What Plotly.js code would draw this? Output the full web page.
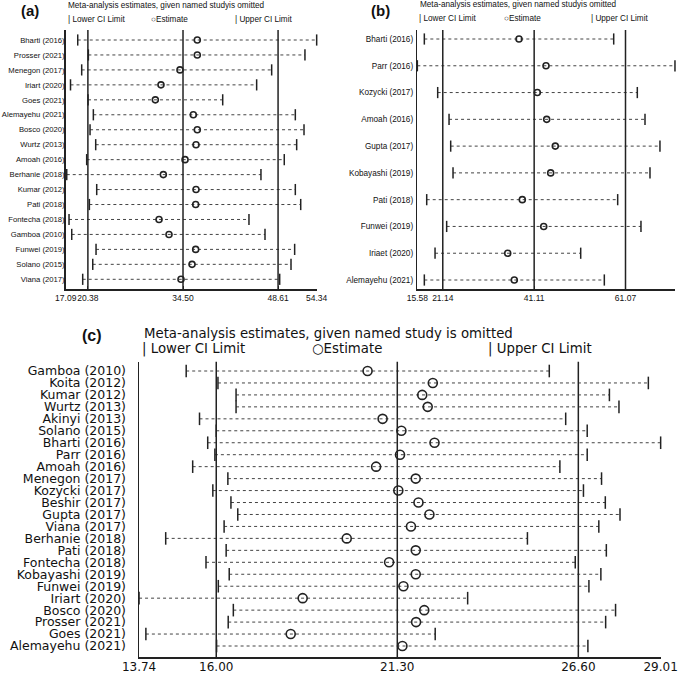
<!DOCTYPE html>
<html><head><meta charset="utf-8">
<script src="https://cdn.plot.ly/plotly-3.0.1.min.js"></script>
<style>body{margin:0;background:#fff}#c{width:685px;height:674px}</style>
</head><body><div id="c"></div>
<script>
// ---------- Panel (a) ----------
const aStudies = ["Bharti (2016)","Prosser (2021)","Menegon (2017)","Iriart (2020)","Goes (2021)","Alemayehu (2021)","Bosco (2020)","Wurtz (2013)","Amoah (2016)","Berhanie (2018)","Kumar (2012)","Pati (2018)","Fontecha (2018)","Gamboa (2010)","Funwei (2019)","Solano (2015)","Viana (2017)"];
const aEst   = [36.62,36.62,34.05,31.23,30.39,36.03,36.62,36.43,34.80,31.58,36.43,36.38,30.94,32.42,36.38,35.84,34.20];
const aLower = [18.87,20.45,19.46,17.80,20.40,21.19,20.70,21.54,20.20,17.24,21.69,20.60,17.58,17.98,21.59,21.10,19.61];
const aUpper = [54.34,52.60,47.66,45.43,40.39,51.17,52.46,51.37,49.53,46.07,51.17,51.97,44.29,46.67,51.07,50.53,48.85];
const aPooled = [20.38,34.50,48.61];
const aTicks = [17.09,20.38,34.50,48.61,54.34];

// ---------- Panel (b) ----------
const bStudies = ["Bharti (2016)","Parr (2016)","Kozycki (2017)","Amoah (2016)","Gupta (2017)","Kobayashi (2019)","Pati (2018)","Funwei (2019)","Iriaet (2020)","Alemayehu (2021)"];
const bEst   = [37.80,43.70,41.80,43.85,45.73,44.72,38.52,43.20,35.33,36.77];
const bLower = [17.11,15.58,20.03,22.51,22.87,23.38,17.63,21.99,19.45,17.11];
const bUpper = [58.49,71.88,63.65,65.33,68.60,66.42,59.36,64.45,51.28,56.44];
const bPooled = [21.14,41.11,61.07];
const bTicks = [15.58,21.14,41.11,61.07,71.88];

// ---------- Panel (c) ----------
const cStudies = ["Gamboa (2010)","Koita (2012)","Kumar (2012)","Wurtz (2013)","Akinyi (2013)","Solano (2015)","Bharti (2016)","Parr (2016)","Amoah (2016)","Menegon (2017)","Kozycki (2017)","Beshir (2017)","Gupta (2017)","Viana (2017)","Berhanie (2018)","Pati (2018)","Fontecha (2018)","Kobayashi (2019)","Funwei (2019)","Iriart (2020)","Bosco (2020)","Prosser (2021)","Goes (2021)","Alemayehu (2021)"];
const cEst   = [20.43,22.34,22.03,22.19,20.87,21.42,22.39,21.38,20.68,21.84,21.33,21.92,22.24,21.70,19.82,21.84,21.06,21.84,21.48,18.53,22.09,21.85,18.18,21.45];
const cLower = [15.12,16.05,16.58,16.58,15.51,16.00,15.75,15.96,15.31,16.34,15.90,16.43,16.63,16.23,14.52,16.29,15.70,16.38,16.06,13.74,16.50,16.35,13.94,16.01];
const cUpper = [25.75,28.65,27.51,27.79,26.23,26.86,29.01,26.86,26.06,27.28,26.75,27.39,27.82,27.20,25.11,27.42,26.51,27.26,26.91,23.36,27.69,27.40,22.41,26.88];
const cPooled = [16.00,21.30,26.60];
const cTicks = [13.74,16.00,21.30,26.60,29.01];

const W = 685, H = 674;
const NARROW = "Liberation Sans, Arial, sans-serif";
const WIDE = "Liberation Sans, Arial, sans-serif";
const DEJA = "DejaVu Sans, Verdana, sans-serif";

const traces = [];
const layout = {
  width: W, height: H, margin: {l:0, r:0, t:0, b:0},
  paper_bgcolor: "#fff", plot_bgcolor: "rgba(0,0,0,0)",
  showlegend: false, shapes: [], annotations: []
};

function panel(k, studies, est, lo, up, pooled, ticks, geo, st) {
  const xa = "x" + (k === 1 ? "" : k), ya = "y" + (k === 1 ? "" : k);
  const xk = "xaxis" + (k === 1 ? "" : k), yk = "yaxis" + (k === 1 ? "" : k);
  const n = studies.length;
  const idx = studies.map((_, i) => i);
  const lx = [], ly = [];
  idx.forEach(i => { lx.push(lo[i], up[i], null); ly.push(i, i, null); });
  traces.push({x: lx, y: ly, xaxis: xa, yaxis: ya, mode: "lines", type: "scatter", cliponaxis: false,
    line: {color: "#444", width: st.dl, dash: "dot"}, hoverinfo: "skip"});
  traces.push({x: lo.concat(up), y: idx.concat(idx), xaxis: xa, yaxis: ya, mode: "markers", type: "scatter", cliponaxis: false,
    marker: {symbol: "line-ns", size: st.bar, line: {color: "#222", width: 1.5}}, hoverinfo: "skip"});
  traces.push({x: est, y: idx, xaxis: xa, yaxis: ya, mode: "markers", type: "scatter", cliponaxis: false,
    marker: {symbol: "circle-open", size: st.circ, color: "#222", line: {color: "#222", width: 1.6}}, hoverinfo: "skip"});

  const sp = (geo.rowLast - geo.rowFirst) / (n - 1);
  const rTop = -(geo.rowFirst - geo.top) / sp;
  const rBot = (n - 1) + (geo.bottom - geo.rowLast) / sp;
  const eps = (ticks[ticks.length - 1] - ticks[0]) * 1e-4;
  layout[xk] = {
    domain: [geo.left / W, geo.right / W], range: [ticks[0] - eps, ticks[ticks.length - 1] + eps],
    anchor: ya, showgrid: false, zeroline: false, showline: true, linecolor: "#222", linewidth: 1.5,
    tickmode: "array", tickvals: ticks, ticktext: ticks.map(v => v.toFixed(2)), tickangle: 0,
    ticks: "inside", ticklen: 3, tickcolor: "#222",
    tickfont: {family: st.tickFam, size: st.tickSize, color: "#111"}, ticklabelstandoff: st.xStand
  };
  layout[yk] = {
    domain: [1 - geo.bottom / H, 1 - geo.top / H], range: [rBot, rTop],
    anchor: xa, showgrid: false, zeroline: false, showline: true, linecolor: "#222", linewidth: 1.5,
    tickmode: "array", tickvals: idx, ticktext: studies, ticks: "",
    tickfont: {family: st.labFam, size: st.labSize, color: "#111"}, ticklabelstandoff: st.yStand
  };
  pooled.forEach(v => layout.shapes.push({type: "line", xref: xa, yref: ya + " domain",
    x0: v, x1: v, y0: 0, y1: 1, line: {color: "#222", width: 1.5}}));

  const ann = (txt, px, py, fam, size, anchor) => layout.annotations.push({
    text: txt, xref: "paper", yref: "paper", x: px / W, y: 1 - py / H,
    xanchor: anchor || "left", yanchor: "middle", showarrow: false,
    font: {family: fam, size: size, color: "#111"}});
  ann("<b>" + st.letter + "</b>", st.letX, st.letY, WIDE, st.letSize);
  ann(st.title, st.titX, st.titY, st.labFam, st.titSize);
  ann("| Lower CI Limit", st.leg[0], st.legY, st.labFam, st.titSize);
  ann("○Estimate", st.leg[1], st.legY, st.labFam, st.titSize);
  ann("| Upper CI Limit", st.leg[2], st.legY, st.labFam, st.titSize);
}

panel(1, aStudies, aEst, aLower, aUpper, aPooled, aTicks,
  {left: 65.7, right: 316.7, top: 30, bottom: 289, rowFirst: 40, rowLast: 279.3},
  {dl: 1, bar: 8, circ: 6, tickFam: NARROW, tickSize: 8.5, xStand: 0, labFam: NARROW, labSize: 7.7, yStand: -2,
   letter: "(a)", letX: 19, letY: 11, letSize: 15,
   title: "Meta-analysis estimates, given named studyis omitted", titX: 66, titY: 6, titSize: 8.2,
   leg: [66, 149, 233], legY: 19});

panel(2, bStudies, bEst, bLower, bUpper, bPooled, bTicks,
  {left: 417.3, right: 675, top: 30, bottom: 289, rowFirst: 39, rowLast: 280},
  {dl: 1, bar: 8, circ: 6, tickFam: NARROW, tickSize: 8.5, xStand: 0, labFam: NARROW, labSize: 8.2, yStand: 1,
   letter: "(b)", letX: 369, letY: 11, letSize: 15,
   title: "Meta-analysis estimates, given named studyis omitted", titX: 418, titY: 5, titSize: 8.2,
   leg: [417, 502, 589], legY: 18});

panel(3, cStudies, cEst, cLower, cUpper, cPooled, cTicks,
  {left: 139, right: 660.7, top: 361.7, bottom: 657.3, rowFirst: 371, rowLast: 646},
  {dl: 1, bar: 9, circ: 9, tickFam: DEJA, tickSize: 12, xStand: -2, labFam: DEJA, labSize: 12.5, yStand: 9,
   letter: "(c)", letX: 80, letY: 335, letSize: 16,
   title: "Meta-analysis estimates, given named study is omitted", titX: 142, titY: 333, titSize: 13.3,
   leg: [140, 310, 486], legY: 349});

Plotly.newPlot("c", traces, layout, {staticPlot: true, displayModeBar: false});
</script>
</body></html>
